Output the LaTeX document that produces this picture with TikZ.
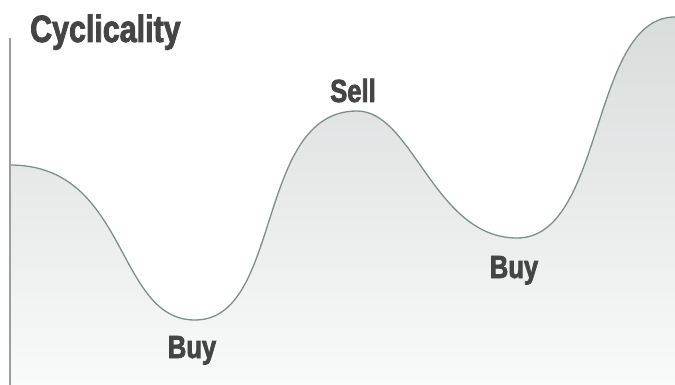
\documentclass[tikz,border=0pt]{standalone}
\usepackage{fontspec}
\newfontfamily\labelfont[FakeStretch=0.8,FakeBold=2.2]{Liberation Sans Bold}
\begin{document}
\begin{tikzpicture}[x=1pt,y=-1pt,
  labeltext/.style={font=\labelfont\fontsize{32}{32}\selectfont, text=inkgray, inner sep=0pt, anchor=base},
  axisline/.style={draw=axisgray, line width=1.5pt},
  waveline/.style={draw=wavegray, line width=1.3pt}]
\definecolor{inkgray}{HTML}{454545}
\definecolor{axisgray}{HTML}{9C9C9C}
\definecolor{wavegray}{HTML}{7E8F8B}
\definecolor{shadetop}{HTML}{D8DCDB}
\definecolor{shadebottom}{HTML}{F9FAFA}
\useasboundingbox (0,0) rectangle (675,385);
% area under the cycle, shaded from top to bottom
\shade[top color=shadetop, bottom color=shadebottom]
  (10,385) -- (10,165)
  .. controls (129,165) and (115,320) .. (195,320)
  .. controls (283,320) and (255,111) .. (357,111)
  .. controls (413,111) and (434,238) .. (517,238)
  .. controls (605,238) and (590,17) .. (675,17)
  -- (675,385) -- cycle;
% the cycle itself
\draw[waveline] (10,165)
  .. controls (129,165) and (115,320) .. (195,320)
  .. controls (283,320) and (255,111) .. (357,111)
  .. controls (413,111) and (434,238) .. (517,238)
  .. controls (605,238) and (590,17) .. (675,17);
% vertical axis
\draw[axisline] (10,38) -- (10,385);
% labels
\node[labeltext, font=\labelfont\fontsize{38}{38}\selectfont, anchor=base west] (title) at (30,42) {Cyclicality};
\node[labeltext] (sell) at (353,102) {Sell};
\node[labeltext] (buyleft) at (192,358) {Buy};
\node[labeltext] (buyright) at (514,278) {Buy};
\end{tikzpicture}
\end{document}
